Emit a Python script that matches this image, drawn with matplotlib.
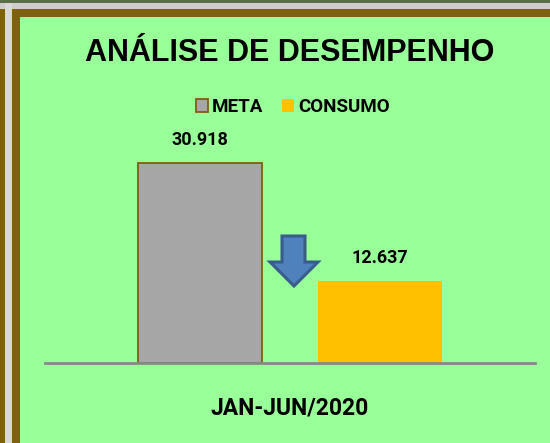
import matplotlib
matplotlib.use("Agg")
import matplotlib.pyplot as plt
from matplotlib.patches import Rectangle, Polygon
from matplotlib.transforms import IdentityTransform

# ---- data ----
title = "ANÁLISE DE DESEMPENHO"
period = ["JAN-JUN/2020"]
series = ["META", "CONSUMO"]
values = [30918, 12637]

W, H = 550, 443
DPI = 100
GREEN = "#99FF99"
BROWN = "#7F6010"
GRAY_BAR = "#A6A6A6"
YELLOW = "#FFC000"

narrow = ["Roboto", "DejaVu Sans"]
wide = ["Liberation Sans", "DejaVu Sans"]

fig = plt.figure(figsize=(W / DPI, H / DPI), dpi=DPI, facecolor=GREEN)

def rect(x, y, w, h, color):
    # pixel coords, y from top
    fig.patches.append(Rectangle((x / W, 1 - (y + h) / H), w / W, h / H,
                                 transform=fig.transFigure, facecolor=color,
                                 edgecolor="none", zorder=-5))

# frame decoration
rect(0, 0, W, 3, "#5A6E4A")
rect(0, 3, W, 6, "#CDCDCD")
rect(0, 9, 5, H, BROWN)
rect(5, 3, 7, H, "#D8D8D8")
rect(12, 9, W, 8, BROWN)
rect(12, 9, 8, H, BROWN)

ax = fig.add_axes([45 / W, (H - 363) / H, 490 / W, 243 / H])
ax.set_facecolor("none")

offsets = [-0.183, 0.183]
colors = [GRAY_BAR, YELLOW]
edges = [BROWN, YELLOW]
for i, (s, v) in enumerate(zip(series, values)):
    b = ax.bar(0 + offsets[i], v, width=0.253, color=colors[i],
               edgecolor=edges[i], linewidth=1.3 if i == 0 else 0, label=s)
    ax.bar_label(b, labels=[f"{v:,.0f}".replace(",", ".")], padding=10,
                 fontsize=13, fontweight="bold", family=narrow, color="black")

ax.set_xlim(-0.5, 0.5)
ax.set_ylim(0, max(values) * 1.215)
for sp in ["left", "right", "top"]:
    ax.spines[sp].set_visible(False)
ax.spines["bottom"].set_color("#888888")
ax.spines["bottom"].set_linewidth(2)
ax.set_yticks([])
ax.set_xticks([0])
ax.set_xticklabels(period, fontsize=16.5, fontweight="bold", family=narrow)
ax.tick_params(axis="x", length=0, pad=24)

fig.text(290 / W, 1 - 53 / H, title, ha="center", va="center",
         fontsize=22, fontweight="bold", family=wide)

ax.legend(loc="center", bbox_to_anchor=(293 / W, 1 - 107 / H),
          bbox_transform=fig.transFigure, ncol=2, frameon=False,
          prop={"family": narrow, "weight": "bold", "size": 13.5},
          handlelength=0.65, handleheight=0.65, handletextpad=0.2,
          columnspacing=1.0)

# down arrow (pixel coords, y from top)
pts = [(282, 236), (305, 236), (305, 262), (318, 262), (294, 286),
       (270, 262), (282, 262)]
fig.patches.append(Polygon([(x, H - y) for x, y in pts], closed=True,
                           transform=IdentityTransform(), facecolor="#4F81BD",
                           edgecolor="#385D8A", linewidth=2.2, zorder=5))

fig.savefig("out.png", dpi=DPI, facecolor=GREEN)
